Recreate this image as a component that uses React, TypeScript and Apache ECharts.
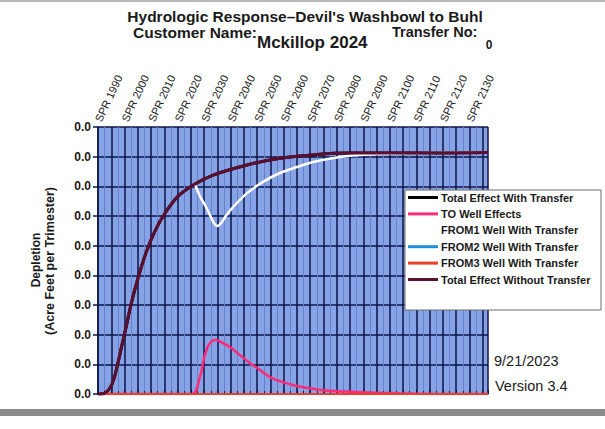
import React, { useEffect, useRef } from "react";
import * as echarts from "echarts";

// X values are years (spring trimester), Y values in acre feet per trimester
const withoutYears = [1990, 1990.8, 1992.6, 1994.5, 1996.0, 1997.5, 1999.0, 2000.6, 2002.4, 2005.1, 2008.1, 2011.5, 2015.3, 2020.2, 2026.6, 2033.4, 2046.2, 2058.6, 2071.1, 2083.9, 2107.6, 2137];
const withoutValues = [0, 0, 0.00015, 0.001, 0.00255, 0.0052, 0.0082, 0.0113, 0.015, 0.01955, 0.0238, 0.0275, 0.0305, 0.03335, 0.0354, 0.0369, 0.0386, 0.03975, 0.0403, 0.0406, 0.0406, 0.0407];

const withYears = withoutYears;
const withValues = withoutValues;

const from1Years = [2026.6, 2028.4, 2030.3, 2032.2, 2033.7, 2034.9, 2036.4, 2038.2, 2040.9, 2046.2, 2052.2, 2058.6, 2065.0, 2071.1, 2081.2, 2088.8, 2103.9, 2137];
const from1Values = [0.03525, 0.03335, 0.03185, 0.03015, 0.0288, 0.0283, 0.0288, 0.03, 0.0315, 0.03385, 0.03575, 0.03725, 0.03825, 0.0391, 0.03995, 0.0403, 0.04055, 0.0407];

const toYears = [1990, 2025.4, 2028.4, 2030.0, 2031.5, 2033.0, 2034.5, 2036.4, 2039.8, 2043.5, 2047.3, 2051.1, 2054.8, 2059.7, 2065.0, 2074.8, 2087.6, 2103.9, 2137];
const toValues = [0, 0, 0.00285, 0.00605, 0.0081, 0.00895, 0.0091, 0.00875, 0.0079, 0.00655, 0.0052, 0.00405, 0.00285, 0.002, 0.00135, 0.00065, 0.00035, 0.0001, 0];

const zeroYears = [1990, 2137];
const zeroValues = [0, 0];

const seriesNames = [
  "Total Effect With Transfer",
  "TO Well Effects",
  "FROM1 Well With Transfer",
  "FROM2 Well With Transfer",
  "FROM3 Well With Transfer",
  "Total Effect Without Transfer",
];

const yMax = 0.045;
const yStep = 0.005;
const xMin = 1990;
const xMax = 2137;
const xStep = 5;

function zip(xs: number[], ys: number[]) {
  return xs.map((x, i) => [x, ys[i]]);
}

export default function App() {
  const ref = useRef<HTMLDivElement>(null);
  useEffect(() => {
    if (!ref.current) return;
    const chart = echarts.init(ref.current, undefined, { renderer: "svg" });
    const dark = "#0d1548";
    const font = "Arial, 'Liberation Sans', sans-serif";
    const line = (name: string, color: string, data: number[][], width: number, z: number) => ({
      name,
      type: "line",
      data,
      smooth: 0.35,
      showSymbol: false,
      symbol: "none",
      z,
      lineStyle: { color, width },
      itemStyle: { color },
    });
    chart.setOption({
      animation: false,
      backgroundColor: "#ffffff",
      grid: {
        left: 98,
        right: 117,
        top: 127,
        bottom: 35,
        show: true,
        backgroundColor: "#86a3e6",
        borderWidth: 0,
      },
      xAxis: {
        type: "value",
        position: "top",
        min: xMin,
        max: xMax,
        interval: xStep,
        axisLine: { show: true, lineStyle: { color: dark, width: 1.5 } },
        axisTick: { show: true, length: 4, lineStyle: { color: dark } },
        minorTick: { show: true, splitNumber: 2, length: 3, lineStyle: { color: dark } },
        axisLabel: {
          rotate: 65,
          margin: 6,
          fontSize: 11,
          fontFamily: font,
          color: "#1a1a1a",
          formatter: (v: number) => (Math.round(v) % 10 === 0 && v <= 2130 ? "SPR " + v : ""),
        },
        splitLine: { show: true, lineStyle: { color: dark, width: 1.5 } },
        minorSplitLine: { show: true, lineStyle: { color: "#6680cc", width: 1 } },
      },
      yAxis: {
        type: "value",
        min: 0,
        max: yMax,
        interval: yStep,
        axisLine: { show: true, lineStyle: { color: dark, width: 1.5 } },
        axisTick: { show: true, length: 5, lineStyle: { color: dark, width: 1.5 } },
        axisLabel: {
          margin: 7,
          fontSize: 12,
          fontWeight: "bold",
          fontFamily: font,
          color: "#1a1a1a",
          formatter: (v: number) => v.toFixed(1),
        },
        splitLine: { show: true, lineStyle: { color: dark, width: 1.5 } },
      },
      legend: {
        orient: "vertical",
        left: 408,
        top: 192,
        padding: 0,
        itemWidth: 30,
        itemHeight: 14,
        itemGap: 5.4,
        icon: "path://M0,0 L30,0 L30,3 L0,3 Z",
        data: seriesNames,
        textStyle: { fontSize: 11, fontWeight: "bold", fontFamily: font, color: "#1a1a1a", padding: [0, 0, 0, -2] },
        z: 6,
      },
      graphic: [
        { type: "rect", shape: { x: 0, y: 0, width: 605, height: 2 }, style: { fill: "#b8b8b8" } },
        { type: "rect", shape: { x: 0, y: 409, width: 605, height: 7 }, style: { fill: "#8c8c8c" } },
        { type: "rect", z: 5, shape: { x: 405, y: 190, width: 196, height: 120 }, style: { fill: "#ffffff", stroke: "#6e6e6e", lineWidth: 1 } },
        { type: "text", x: 305, y: 16, style: { text: "Hydrologic Response–Devil's Washbowl to Buhl", fontSize: 15.5, fontWeight: "bold", fontFamily: font, fill: "#1a1a1a", textAlign: "center", textVerticalAlign: "middle" } },
        { type: "text", x: 133, y: 32, style: { text: "Customer Name:", fontSize: 15.5, fontWeight: "bold", fontFamily: font, fill: "#1a1a1a", textAlign: "left", textVerticalAlign: "middle" } },
        { type: "text", x: 257, y: 42, style: { text: "Mckillop 2024", fontSize: 17, fontWeight: "bold", fontFamily: font, fill: "#1a1a1a", textAlign: "left", textVerticalAlign: "middle" } },
        { type: "text", x: 392, y: 32, style: { text: "Transfer No:", fontSize: 14.5, fontWeight: "bold", fontFamily: font, fill: "#1a1a1a", textAlign: "left", textVerticalAlign: "middle" } },
        { type: "text", x: 489, y: 45, style: { text: "0", fontSize: 12, fontWeight: "bold", fontFamily: font, fill: "#1a1a1a", textAlign: "center", textVerticalAlign: "middle" } },
        { type: "text", x: 36, y: 260, rotation: Math.PI / 2, style: { text: "Depletion", fontSize: 12, fontWeight: "bold", fontFamily: font, fill: "#1a1a1a", textAlign: "center", textVerticalAlign: "middle" } },
        { type: "text", x: 50, y: 261, rotation: Math.PI / 2, style: { text: "(Acre Feet per Trimester)", fontSize: 12.5, fontWeight: "bold", fontFamily: font, fill: "#1a1a1a", textAlign: "center", textVerticalAlign: "middle" } },
        { type: "text", x: 494, y: 361, style: { text: "9/21/2023", fontSize: 14.5, fontFamily: font, fill: "#1a1a1a", textAlign: "left", textVerticalAlign: "middle" } },
        { type: "text", x: 495, y: 386, style: { text: "Version 3.4", fontSize: 14.5, fontFamily: font, fill: "#1a1a1a", textAlign: "left", textVerticalAlign: "middle" } },
      ],
      series: [
        line(seriesNames[0], "#000000", zip(withYears, withValues), 3, 2),
        line(seriesNames[1], "#ff2a78", zip(toYears, toValues), 2.5, 4),
        line(seriesNames[2], "#ffffff", zip(from1Years, from1Values), 2.5, 3),
        line(seriesNames[3], "#1f8fdc", zip(zeroYears, zeroValues), 2, 2),
        line(seriesNames[4], "#e8402a", zip(zeroYears, zeroValues), 2, 5),
        line(seriesNames[5], "#5c0f30", zip(withoutYears, withoutValues), 3, 6),
      ],
    });
    return () => chart.dispose();
  }, []);
  return <div ref={ref} style={{ position: "fixed", left: 0, top: 0, width: 605, height: 429 }} />;
}
